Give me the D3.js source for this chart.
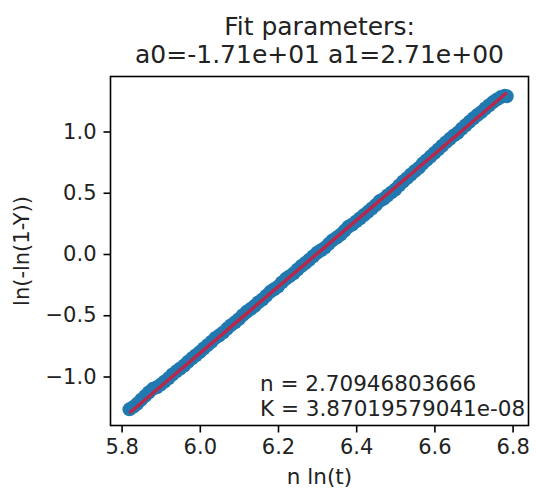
<!DOCTYPE html>
<html>
<head>
<meta charset="utf-8">
<script src="https://cdn.jsdelivr.net/npm/d3@7"></script>
<style>
  html, body { margin: 0; padding: 0; background: #fff; }
  svg { display: block; font-family: "DejaVu Sans", sans-serif; }
</style>
</head>
<body>
<svg id="chart" width="536" height="493"></svg>
<script>
// Avrami-style linearisation: ln(-ln(1-Y)) against n ln(t)
const xValues = [5.82, 5.83, 5.84, 5.85, 5.86, 5.87, 5.88, 5.89, 5.90, 5.91,
  5.92, 5.93, 5.94, 5.95, 5.96, 5.97, 5.98, 5.99, 6.00, 6.01,
  6.02, 6.03, 6.04, 6.05, 6.06, 6.07, 6.08, 6.09, 6.10, 6.11,
  6.12, 6.13, 6.14, 6.15, 6.16, 6.17, 6.18, 6.19, 6.20, 6.21,
  6.22, 6.23, 6.24, 6.25, 6.26, 6.27, 6.28, 6.29, 6.30, 6.31,
  6.32, 6.33, 6.34, 6.35, 6.36, 6.37, 6.38, 6.39, 6.40, 6.41,
  6.42, 6.43, 6.44, 6.45, 6.46, 6.47, 6.48, 6.49, 6.50, 6.51,
  6.52, 6.53, 6.54, 6.55, 6.56, 6.57, 6.58, 6.59, 6.60, 6.61,
  6.62, 6.63, 6.64, 6.65, 6.66, 6.67, 6.68, 6.69, 6.70, 6.71,
  6.72, 6.73, 6.74, 6.75, 6.76, 6.77, 6.78, 6.785];
const yValues = [-1.268, -1.248, -1.222, -1.190, -1.160, -1.128, -1.101, -1.088, -1.066, -1.041,
  -1.015, -0.984, -0.958, -0.935, -0.910, -0.879, -0.852, -0.826, -0.801, -0.772,
  -0.744, -0.716, -0.685, -0.664, -0.640, -0.609, -0.581, -0.558, -0.532, -0.499,
  -0.471, -0.449, -0.425, -0.394, -0.372, -0.341, -0.309, -0.288, -0.266, -0.232,
  -0.203, -0.181, -0.158, -0.126, -0.098, -0.074, -0.047, -0.018, 0.010, 0.031,
  0.052, 0.083, 0.113, 0.134, 0.158, 0.189, 0.222, 0.241, 0.266, 0.292,
  0.318, 0.344, 0.371, 0.399, 0.432, 0.450, 0.478, 0.503, 0.527, 0.560,
  0.592, 0.619, 0.649, 0.677, 0.703, 0.738, 0.766, 0.795, 0.824, 0.854,
  0.884, 0.913, 0.941, 0.968, 0.990, 1.022, 1.051, 1.080, 1.108, 1.135,
  1.158, 1.188, 1.214, 1.240, 1.262, 1.281, 1.291, 1.288];

// Fit results
const nFit = 2.70946803666;
const kFit = 3.87019579041e-08;
const a1 = nFit;
const a0 = Math.log(kFit);

const xTicks = [5.8, 6.0, 6.2, 6.4, 6.6, 6.8];
const yTicks = [-1.0, -0.5, 0.0, 0.5, 1.0];

const titleLines = ["Fit parameters:", "a0=-1.71e+01 a1=2.71e+00"];
const xLabel = "n ln(t)";
const yLabel = "ln(-ln(1-Y))";
const noteLines = ["n = 2.70946803666", "K = 3.87019579041e-08"];

const svg = d3.select("#chart");
const plotL = 110.5, plotR = 528.5, plotT = 76.5, plotB = 425.5;

const x = d3.scaleLinear().domain([5.7716, 6.8407]).range([plotL, plotR]);
const y = d3.scaleLinear().domain([-1.400, 1.449]).range([plotB, plotT]);

const fmt = v => d3.format(".1f")(v).replace("-", "\u2212");

// data points
const pts = xValues.map((v, i) => [v, yValues[i]]);
svg.append("g")
  .selectAll("circle")
  .data(pts)
  .join("circle")
  .attr("cx", d => x(d[0]))
  .attr("cy", d => y(d[1]))
  .attr("r", 7)
  .attr("fill", "#2179b0");

// fitted line
const xLo = d3.min(xValues), xHi = d3.max(xValues);
svg.append("path")
  .datum([xLo, xHi])
  .attr("d", d3.line().x(d => x(d)).y(d => y(a0 + a1 * d)))
  .attr("fill", "none")
  .attr("stroke", "#b8284a")
  .attr("stroke-width", 3.5);

// axes
const xAxis = svg.append("g")
  .attr("transform", `translate(0,${plotB})`)
  .call(d3.axisBottom(x).tickValues(xTicks).tickFormat(d3.format(".1f")).tickSize(7).tickPadding(7));
const yAxis = svg.append("g")
  .attr("transform", `translate(${plotL},0)`)
  .call(d3.axisLeft(y).tickValues(yTicks).tickFormat(fmt).tickSize(7).tickPadding(7));

[xAxis, yAxis].forEach(g => {
  g.select(".domain").remove();
  g.selectAll(".tick line").attr("stroke", "#000").attr("stroke-width", 1.6);
  g.selectAll(".tick text")
    .attr("fill", "#222")
    .style("font-size", "21px")
    .style("font-family", "DejaVu Sans, sans-serif");
});

// frame
svg.append("rect")
  .attr("x", plotL).attr("y", plotT)
  .attr("width", plotR - plotL).attr("height", plotB - plotT)
  .attr("fill", "none")
  .attr("stroke", "#000")
  .attr("stroke-width", 1.6);

// title
const cx = (plotL + plotR) / 2;
svg.append("text")
  .attr("x", cx).attr("y", 35)
  .attr("text-anchor", "middle")
  .style("font-size", "25px").attr("fill", "#222")
  .text(titleLines[0]);
svg.append("text")
  .attr("x", cx).attr("y", 63)
  .attr("text-anchor", "middle")
  .style("font-size", "25px").attr("fill", "#222")
  .text(titleLines[1]);

// axis labels
svg.append("text")
  .attr("x", cx).attr("y", 484)
  .attr("text-anchor", "middle")
  .style("font-size", "21.5px").attr("fill", "#222")
  .text(xLabel);
svg.append("text")
  .attr("transform", `translate(29,${(plotT + plotB) / 2}) rotate(-90)`)
  .attr("text-anchor", "middle")
  .style("font-size", "21px").attr("fill", "#222")
  .text(yLabel);

// fit annotation
noteLines.forEach((t, i) => {
  svg.append("text")
    .attr("x", 260).attr("y", 391 + i * 24.5)
    .style("font-size", "21.5px").attr("fill", "#222")
    .text(t);
});
</script>
</body>
</html>
